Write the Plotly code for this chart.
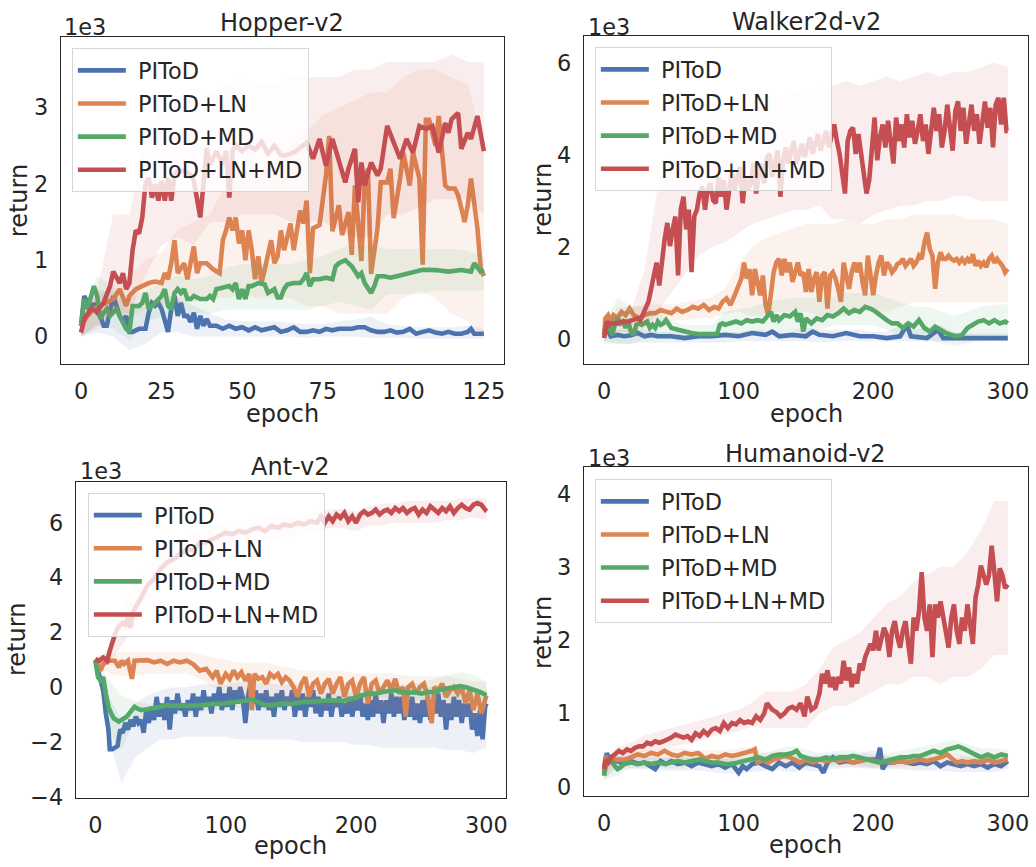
import plotly.graph_objects as go

W, H = 1036, 867
FONT = "DejaVu Sans"
TXT = "#262626"
LABELS = ["PIToD", "PIToD+LN", "PIToD+MD", "PIToD+LN+MD"]
COLORS = ["#4C72B0", "#DD8452", "#55A868", "#C44E52"]

# ---------------- Hopper-v2 (values in 1e3) ----------------
hop_blue_x = list(range(17)) + [18] + list(range(20, 41)) + list(range(42, 121, 2)) + [121, 122, 124, 125]
hop_blue_y = [0.14, 0.53, 0.44, 0.31, 0.44, 0.31, 0.27, 0.14, 0.14, 0.31,
              0.53, 0.4, 0.27, 0.19, 0.27, 0.06, 0.06, 0.1,
              0.1, 0.31, 0.44, 0.4, 0.44, 0.36, 0.23, 0.06, 0.36, 0.53,
              0.27, 0.44, 0.27, 0.27, 0.19, 0.31, 0.1, 0.27, 0.14, 0.23, 0.14,
              0.14, 0.1, 0.14, 0.1, 0.12, 0.08, 0.12, 0.08, 0.1, 0.12,
              0.06, 0.08, 0.12, 0.06, 0.06, 0.08, 0.06, 0.1, 0.08, 0.1,
              0.1, 0.1, 0.12, 0.12, 0.08, 0.06, 0.06, 0.08, 0.05, 0.06,
              0.1, 0.035, 0.06, 0.08, 0.05, 0.035, 0.06, 0.035, 0.035, 0.06,
              0.1, 0.035, 0.035, 0.035]
hop_orange_x = ([0, 2, 4, 6, 8, 10, 12, 13, 14, 15, 17, 19, 21, 23, 25] + list(range(26, 38)) + [39, 41, 43]
                + list(range(44, 72)) +
                [72, 74, 75, 76, 77, 78, 80, 81, 83, 84, 85, 87, 88, 89, 90, 92, 93, 95, 96, 97,
                 99, 100, 102, 103, 105, 106, 107, 108, 110, 111, 113, 114, 116, 117, 118, 119, 120, 121, 123, 124, 125])
hop_orange_y = [0.14, 0.27, 0.36, 0.4, 0.44, 0.49, 0.62, 0.49, 0.4, 0.53, 0.62, 0.66, 0.7, 0.72, 0.7,
                0.83, 0.75, 0.96, 1.26, 0.83, 0.9, 0.96, 0.75, 0.96, 1.18, 0.83, 0.96,
                0.96, 0.88, 0.83,
                1.26, 1.39, 1.56, 1.39, 1.56, 1.22, 1.39, 1.0, 1.39, 1.13,
                0.75, 1.05, 0.7, 0.88, 1.05, 1.26, 0.96, 1.05, 1.39, 1.13,
                1.3, 1.48, 1.13, 1.39, 1.65, 1.48, 1.78, 0.83,
                1.42, 1.46, 1.76, 2.11, 2.63, 1.38, 1.72, 1.33, 1.63, 1.07,
                1.98, 0.99, 2.02, 2.2, 0.82, 1.42, 2.02, 2.02, 2.2, 1.55,
                2.07, 2.41, 1.98, 2.41, 2.07, 0.94, 2.84, 2.84, 2.5, 2.89,
                1.98, 1.94, 1.94, 1.85, 1.68, 1.5, 1.72, 2.07, 1.42, 0.9, 0.79]
hop_green_x = (list(range(17)) + [18, 19, 20, 21, 23, 25, 26, 27, 28, 29, 30, 31, 32, 33, 34, 35, 37, 39, 40, 41, 42, 44, 46,
               47, 48, 49, 50, 51, 52, 53, 55, 57, 58, 60, 61, 62, 63, 64, 66, 68, 69, 70, 71, 72, 74, 76, 78, 79, 80,
               82, 83, 84, 86, 87, 88, 89, 90, 91, 92, 94, 96, 98, 100, 102, 104, 106, 110, 114, 118, 121, 122, 123, 124, 125])
hop_green_y = [0.14, 0.49, 0.36, 0.53, 0.66, 0.53, 0.23, 0.31, 0.36, 0.27,
               0.31, 0.36, 0.27, 0.19, 0.1, 0.06, 0.4, 0.4, 0.44, 0.57,
               0.36, 0.44, 0.53, 0.62, 0.4, 0.36, 0.57, 0.62, 0.57, 0.62,
               0.49, 0.49, 0.53, 0.49, 0.49, 0.53, 0.49, 0.62, 0.64, 0.66,
               0.62, 0.7, 0.49, 0.62, 0.49, 0.66, 0.66, 0.7, 0.68, 0.57,
               0.62, 0.51, 0.51, 0.62, 0.68, 0.7, 0.7, 0.75, 0.83, 0.66,
               0.75, 0.75, 0.77, 0.75, 0.92, 0.96, 1.0, 0.96, 0.92, 0.79,
               0.83, 0.7, 0.62, 0.57, 0.66, 0.79, 0.79, 0.77, 0.79, 0.81,
               0.83, 0.85, 0.875, 0.87, 0.85, 0.87, 0.85, 0.96, 0.9, 0.85, 0.87]
hop_red_x = ([0, 1, 3, 5, 7, 9, 10] + list(range(12, 31)) + [32, 34] + list(range(35, 41)) +
             [42, 44, 45, 46, 47, 48, 50, 52, 54, 56, 58, 60, 62, 63, 66, 70, 72, 74, 76, 78,
              80, 82, 83, 85, 86, 87, 88, 90, 92, 93, 95, 97, 99, 101, 103, 105, 107, 109, 111, 113,
              114, 115, 117, 118, 120, 121, 123, 125])
hop_red_y = [0.05, 0.23, 0.36, 0.33, 0.44, 0.66, 0.85,
             0.7, 0.83, 0.62, 0.7, 1.13, 1.39, 1.35, 1.56, 2.0, 2.08, 1.82, 2.0, 1.78, 2.04, 1.78, 2.08, 1.78, 2.12, 2.17,
             2.17, 2.12,
             2.04, 1.82, 1.56, 2.0, 2.47, 2.25,
             2.43, 2.25, 2.43, 1.82, 2.43, 2.51, 2.43, 2.5, 2.45, 2.55,
             2.4, 2.5, 2.38, 2.37, 2.41, 2.54, 2.33, 2.59, 2.24, 2.59,
             2.28, 2.02, 2.2, 2.46, 1.76, 2.28, 1.98, 2.28, 2.11, 2.2,
             2.76, 2.54, 2.33, 2.59, 2.41, 2.76, 2.72, 2.76, 2.41, 2.8,
             2.67, 2.85, 2.93, 2.46, 2.67, 2.59, 2.89, 2.43]
hop_band_x = list(range(0, 126, 5))
hop_blue_hi = [0.25, 0.6, 0.6, 0.35, 0.4, 0.55, 0.5, 0.4, 0.3, 0.22, 0.2, 0.2, 0.2, 0.18, 0.16, 0.16, 0.2, 0.22, 0.26, 0.16, 0.14, 0.12, 0.12, 0.12, 0.14, 0.1]
hop_blue_lo = [0.0, 0.05, 0.0, -0.18, -0.1, 0.05, 0.05, 0.0, 0.0, 0.0, 0.0, 0.0, 0.0, 0.0, -0.02, 0.0, 0.0, 0.0, -0.02, -0.02, -0.02, -0.03, -0.03, -0.03, -0.03, -0.03]
hop_orange_hi = [0.3, 0.5, 0.7, 0.8, 1.0, 1.1, 1.4, 1.5, 1.6, 2.0, 2.2, 2.1, 2.3, 2.5, 2.7, 2.9, 3.0, 3.1, 3.2, 3.2, 3.4, 3.5, 3.5, 3.4, 3.3, 2.5]
hop_orange_lo = [0.0, 0.15, 0.3, 0.25, 0.35, 0.4, 0.45, 0.45, 0.5, 0.5, 0.55, 0.5, 0.5, 0.5, 0.4, 0.4, 0.3, 0.3, 0.3, 0.3, 0.5, 0.6, 0.5, 0.3, 0.2, 0.0]
hop_green_hi = [0.3, 0.8, 0.65, 0.5, 0.6, 0.7, 0.8, 0.75, 0.8, 0.9, 0.95, 0.95, 0.95, 0.95, 1.0, 1.05, 1.15, 1.2, 1.2, 1.15, 1.15, 1.15, 1.15, 1.15, 1.12, 1.05]
hop_green_lo = [0.0, 0.15, 0.1, -0.05, 0.2, 0.25, 0.3, 0.3, 0.3, 0.35, 0.35, 0.35, 0.35, 0.35, 0.35, 0.4, 0.45, 0.4, 0.35, 0.55, 0.55, 0.55, 0.6, 0.6, 0.6, 0.6]
hop_red_hi = [0.2, 0.6, 1.6, 1.6, 2.6, 3.0, 3.0, 3.1, 3.2, 3.3, 3.4, 3.3, 3.3, 3.4, 3.4, 3.4, 3.4, 3.5, 3.5, 3.6, 3.6, 3.6, 3.6, 3.7, 3.6, 3.6]
hop_red_lo = [0.0, 0.1, 0.3, 0.3, 0.8, 1.2, 1.3, 1.2, 1.5, 1.5, 1.6, 1.6, 1.6, 1.5, 1.5, 1.5, 1.4, 1.3, 1.3, 1.6, 1.6, 1.7, 1.8, 1.8, 1.8, 1.6]

# ---------------- Walker2d-v2 ----------------
wal_blue_x = [0, 2, 5, 10, 15, 20, 25, 30, 35, 40, 50, 60, 70, 80, 90, 100, 110, 120, 125, 130, 140, 150, 155, 160,
              170, 180, 190, 200, 210, 220, 225, 228, 240, 248, 252, 260, 270, 280, 290, 300]
wal_blue_y = [0.09, 0.24, 0.06, 0.09, 0.06, 0.08, 0.13, 0.06, 0.09, 0.06,
              0.06, 0.02, 0.06, 0.06, 0.09, 0.06, 0.13, 0.09, 0.16, 0.06,
              0.09, 0.06, 0.16, 0.09, 0.06, 0.13, 0.06, 0.06, 0.02, 0.06,
              0.31, 0.06, 0.02, 0.2, 0.02, 0.02, 0.02, 0.02, 0.02, 0.02]
wal_orange_x = [0, 1, 3, 5, 7, 10, 13, 16, 19, 22, 26, 30, 34, 38, 42, 46, 50, 54, 58, 62,
                66, 70, 74, 78, 82, 85, 88, 91, 94, 97] + list(range(100, 301, 2))
wal_orange_y = [0.09, 0.45, 0.52, 0.38, 0.52, 0.45, 0.59, 0.52, 0.66, 0.52,
                0.45, 0.52, 0.56, 0.56, 0.63, 0.59, 0.56, 0.66, 0.59, 0.63,
                0.7, 0.66, 0.74, 0.63, 0.7, 0.66, 0.81, 0.88, 0.74, 0.95,
                1.16, 1.31, 1.66, 1.31, 1.52, 0.95, 1.52, 1.24, 0.95, 1.38,
                0.74, 0.52, 1.09, 1.45, 1.66, 1.74, 1.38, 1.74, 1.45, 1.66,
                1.24, 1.45, 1.66, 1.38, 1.45, 1.02, 1.52, 1.02, 1.31, 1.45,
                0.81, 1.38, 1.45, 0.66, 1.38, 1.45, 1.31, 1.09, 0.81, 1.66,
                1.31, 1.09, 1.45, 1.66, 1.45, 1.66, 1.24, 0.95, 1.81, 1.38,
                0.95, 1.38, 1.66, 1.81, 1.38, 1.66, 1.59, 1.45, 1.52, 1.63,
                1.66, 1.74, 1.59, 1.66, 1.74, 1.59, 1.66, 1.81, 1.74, 2.09,
                2.31, 1.95, 1.81, 1.09, 1.66, 1.88, 1.74, 1.74, 1.81, 1.74,
                1.7, 1.74, 1.66, 1.74, 1.66, 1.74, 1.66, 1.84, 1.59, 1.7,
                1.59, 1.66, 1.56, 1.74, 1.81, 1.66, 1.74, 1.66, 1.59, 1.45,
                1.52]
wal_green_x = (list(range(0, 51, 2)) + [55, 60, 65, 70, 75, 80, 84, 86, 88, 90] +
               [94, 98, 102, 106, 110, 114, 118, 122, 124, 126, 128, 130, 134, 138, 142, 144, 146, 148, 150] +
               list(range(154, 299, 4)) + [300])
wal_green_y = [0.09, 0.31, 0.24, 0.09, 0.31, 0.45, 0.34, 0.38, 0.24, 0.38,
               0.16, 0.09, 0.31, 0.34, 0.31, 0.34, 0.38, 0.24, 0.31, 0.24,
               0.38, 0.31, 0.34, 0.41, 0.31, 0.24,
               0.2, 0.16, 0.13, 0.11, 0.11, 0.11, 0.11, 0.31, 0.34, 0.31,
               0.34, 0.38, 0.34, 0.41, 0.38, 0.41, 0.38, 0.52, 0.59, 0.38,
               0.52, 0.41, 0.52, 0.49, 0.59, 0.38, 0.56, 0.16, 0.45,
               0.34, 0.45, 0.41, 0.52, 0.49, 0.56, 0.66, 0.56, 0.63, 0.59,
               0.7, 0.66, 0.59, 0.49, 0.41, 0.34, 0.34, 0.24, 0.34, 0.27,
               0.41, 0.24, 0.16, 0.27, 0.2, 0.13, 0.09, 0.06, 0.09, 0.24,
               0.31, 0.38, 0.41, 0.34, 0.41, 0.34, 0.38,
               0.34]
wal_red_x = [0, 2, 4, 6, 10, 14, 18, 22, 25, 27, 30, 33, 35, 37, 39] + list(range(41, 300, 2)) + [300]
wal_red_y = [0.02, 0.38, 0.31, 0.34, 0.34, 0.38, 0.38, 0.41, 0.45, 0.41, 0.59, 0.81, 1.09, 1.38, 1.66,
             1.16, 1.74, 2.16, 2.52, 2.02, 2.38, 2.66, 1.38, 2.81, 3.09,
             2.38, 2.81, 1.45, 2.66, 2.81, 3.16, 3.31, 2.81, 3.24, 3.38,
             3.02, 2.95, 3.52, 3.09, 3.45, 2.81, 3.31, 3.66, 3.24, 3.45,
             3.74, 2.95, 3.52, 3.24, 3.38, 3.81, 3.16, 3.59, 3.81, 3.38,
             3.95, 4.02, 3.52, 3.81, 4.09, 3.09, 3.88, 4.16, 3.81, 4.09,
             4.3, 3.81, 4.02, 4.24, 3.95, 4.16, 4.38, 4.02, 4.24, 4.45,
             4.09, 4.3, 4.52, 4.16, 4.38, 4.66, 4.3, 4.02, 3.59, 3.16,
             4.3, 4.52, 4.59, 4.02, 4.45, 4.02, 3.66, 3.16, 3.45, 4.24,
             4.81, 3.88, 4.38, 4.66, 4.16, 4.74, 4.24, 3.81, 4.81, 4.3,
             4.66, 4.16, 4.88, 4.38, 4.74, 4.24, 4.52, 4.88, 4.3, 4.66,
             4.02, 4.59, 5.02, 4.52, 4.88, 4.16, 4.52, 5.09, 4.66, 4.09,
             4.95, 5.16, 4.52, 5.02, 4.24, 4.66, 5.09, 4.52, 4.88, 4.24,
             4.74, 5.16, 4.59, 5.02, 4.16, 5.09, 5.24, 4.66, 5.24, 4.52,
             4.52]
wal_band_x = list(range(0, 301, 10))
wal_blue_hi = [0.25, 0.2, 0.2, 0.2, 0.15, 0.15, 0.15, 0.15, 0.15, 0.15, 0.15, 0.2, 0.2, 0.2, 0.2, 0.25, 0.2, 0.2, 0.2, 0.2, 0.15, 0.15, 0.3, 0.2, 0.25, 0.3, 0.15, 0.12, 0.12, 0.12, 0.12]
wal_blue_lo = [-0.05, -0.1, -0.1, -0.08, -0.08, -0.08, -0.08, -0.08, -0.08, -0.08, -0.05, -0.05, -0.05, -0.05, -0.05, -0.05, -0.08, -0.05, -0.05, -0.05, -0.05, -0.05, -0.05, -0.05, -0.05, -0.05, -0.05, -0.05, -0.05, -0.05, -0.05]
wal_orange_hi = [0.2, 0.7, 0.7, 0.75, 0.75, 0.75, 0.8, 0.85, 0.9, 1.1, 1.6, 2.0, 2.2, 2.3, 2.4, 2.5, 2.5, 2.5, 2.6, 2.5, 2.5, 2.6, 2.6, 2.7, 2.7, 2.7, 2.7, 2.6, 2.6, 2.6, 2.5]
wal_orange_lo = [0.0, 0.3, 0.3, 0.35, 0.4, 0.4, 0.4, 0.45, 0.45, 0.55, 0.6, 0.5, 0.5, 0.6, 0.6, 0.6, 0.5, 0.5, 0.5, 0.6, 0.6, 0.6, 0.7, 0.8, 0.8, 0.8, 0.8, 0.8, 0.8, 0.8, 0.8]
wal_green_hi = [0.3, 0.9, 0.7, 0.7, 0.6, 0.4, 0.3, 0.3, 0.3, 0.6, 0.65, 0.7, 0.8, 0.85, 0.9, 0.9, 0.9, 0.9, 1.0, 1.0, 1.0, 0.9, 0.8, 0.7, 0.7, 0.6, 0.5, 0.6, 0.7, 0.75, 0.75]
wal_green_lo = [-0.1, -0.1, -0.1, 0.0, 0.0, 0.0, 0.0, 0.0, 0.0, 0.1, 0.1, 0.1, 0.2, 0.2, 0.2, 0.1, 0.2, 0.3, 0.3, 0.3, 0.3, 0.2, 0.1, 0.0, 0.0, -0.1, -0.15, -0.1, 0.0, 0.05, 0.05]
wal_red_hi = [0.2, 0.6, 0.6, 1.5, 3.3, 4.0, 4.3, 4.5, 4.8, 5.0, 5.0, 5.1, 5.3, 5.2, 5.4, 5.3, 5.5, 5.5, 5.6, 5.5, 5.6, 5.7, 5.6, 5.7, 5.8, 5.7, 5.8, 5.8, 5.9, 6.0, 5.9]
wal_red_lo = [0.0, 0.15, 0.15, 0.2, 0.6, 1.0, 1.4, 1.8, 2.0, 2.1, 2.3, 2.5, 2.6, 2.7, 2.8, 2.8, 2.9, 2.6, 2.6, 2.5, 2.7, 2.8, 2.9, 2.9, 3.0, 3.0, 3.1, 3.1, 3.0, 3.0, 3.0]

# ---------------- Ant-v2 ----------------
ant_blue_x = [0, 2, 4, 6, 8, 10] + list(range(11, 300, 2)) + [300]
ant_blue_y = [0.97, 0.61, 0.37, -0.11, -0.95, -1.54,
              -2.26, -2.26, -2.2, -2.14, -1.54, -1.66, -1.3, -1.54, -1.19, -1.43,
              -1.07, -1.3, -1.19, -1.66, -0.83, -1.3, -0.71, -1.19, -0.35, -1.07,
              -0.59, -1.19, -0.35, -1.54, -0.47, -0.95, -0.23, -0.83, -0.59, -1.07,
              -0.47, -0.83, -0.23, -1.07, -0.35, -0.83, -0.11, -0.71, -0.35, -0.95,
              -0.23, -0.59, 0.01, -0.83, -0.23, -0.71, 0.01, -0.83, -0.11, -0.59,
              0.01, -0.35, -1.3, -0.35, 0.13, -0.59, -0.11, -0.83, -0.23, -0.71,
              -0.11, -0.83, -0.35, -1.07, -0.23, -0.71, -0.11, -0.83, -0.35, -0.59,
              -0.11, -1.07, -0.35, -0.83, -0.23, -1.07, -0.35, -0.71, -0.11, -0.95,
              -0.35, -1.07, -0.47, -0.83, -0.23, -1.07, -0.47, -0.71, -0.35, -1.07,
              -0.59, -0.95, -0.35, -1.07, -0.47, -0.83, -0.23, -1.07, -0.59, -1.19,
              -0.47, -1.07, -0.23, -0.95, -0.47, -1.3, -0.47, -0.95, -0.23, -1.07,
              -0.35, -0.95, -0.35, -1.19, -0.47, -1.07, -0.35, -1.19, -0.59, -1.3,
              -0.47, -1.07, -0.35, -1.19, -0.47, -0.95, -0.23, -1.07, -0.47, -1.54,
              -0.59, -1.19, -0.35, -1.07, -0.47, -1.3, -0.59, -1.07, -0.59, -1.54,
              -0.95, -1.78, -0.83, -1.9, -0.71,
              -0.59]
ant_orange_x = ([0, 2, 4, 6, 8, 10, 15, 18, 20, 22, 25, 28, 30, 35, 40, 45, 50, 55, 60, 65,
                 70, 75, 80, 85, 90, 93, 96, 100, 103, 106, 109, 112, 115, 118, 120, 122] +
                list(range(125, 237, 3)) + [238, 240] + list(range(243, 259, 3)) + list(range(260, 300, 3)) + [300])
ant_orange_y = [1.03, 0.85, 0.61, 0.85, 0.91, 0.97, 0.97, 0.73, 0.97, 0.85,
                0.97, 0.31, 0.97, 0.97, 0.99, 0.91, 0.97, 0.85, 0.97, 0.91,
                0.97, 0.85, 0.61, 0.67, 0.37, 0.61, 0.13, 0.49, 0.31, 0.61,
                0.37, 0.55, 0.25, 0.49, -0.83, 0.49,
                0.31, 0.37, 0.13, 0.49, 0.37, 0.49, 0.19, 0.37, 0.25, 0.01,
                -0.35, 0.13, 0.37, -0.35, 0.13, 0.25, -0.23, 0.13, 0.31, -0.23,
                0.13, 0.37, -0.35, 0.13, 0.25, -0.35, 0.13, 0.37, -0.59, 0.13,
                0.25, -0.23, 0.01, 0.25, -0.11, 0.31, -0.23, 0.01,
                -1.07, 0.01,
                0.13, -0.23, 0.01, 0.13, -0.35, -1.31,
                0.01, -0.11, 0.13, -0.35, -0.11, 0.01, -0.23, 0.01, -0.59, -0.11, -0.83, -0.23, -0.95, -0.35,
                -0.29]
ant_green_x = [0, 2, 4, 6, 8, 10, 12, 14, 16, 18, 20, 22, 24, 26, 28, 30, 32] + list(range(35, 301, 5))
ant_green_y = [0.97, 0.37, 0.25, 0.37, -0.23, -0.71, -0.95, -1.13, -1.19, -1.25, -1.19, -1.13, -1.07, -0.95, -0.83, -0.71, -0.77,
               -0.83, -0.8, -0.77, -0.71, -0.65, -0.68, -0.66, -0.68, -0.67, -0.66,
               -0.62, -0.61, -0.61, -0.59, -0.56, -0.53, -0.49, -0.44, -0.53, -0.65,
               -0.65, -0.61, -0.59, -0.61, -0.56, -0.53, -0.53, -0.49, -0.49, -0.47,
               -0.49, -0.49, -0.44, -0.35, -0.29, -0.23, -0.23, -0.17, -0.13, -0.11,
               -0.17, -0.2, -0.18, -0.23, -0.17, -0.17, -0.08, -0.05, -0.01, 0.04,
               -0.01, -0.08, -0.17, -0.29]
ant_red_x = [0, 3, 6, 9, 11, 13, 15, 17, 19, 21, 23, 25, 27, 29] + list(range(35, 171, 5)) + list(range(173, 300, 3)) + [300]
ant_red_y = [1.03, 0.97, 1.09, 0.97, 1.33, 1.69, 1.93, 2.17, 2.29, 2.35, 2.29, 2.53, 2.17, 2.77,
             3.25, 3.72, 3.96, 4.32, 4.56, 4.68, 4.86, 5.04, 4.98, 5.28,
             5.28, 5.4, 5.52, 5.64, 5.58, 5.7, 5.64, 5.76, 5.82, 5.7,
             5.88, 5.82, 5.94, 5.88, 6.0, 5.94, 6.06, 6.0,
             6.24, 6.0, 6.24, 6.06, 6.3, 6.18, 6.36, 6.06, 6.24, 6.0,
             6.3, 6.42, 6.3, 6.36, 6.48, 6.3, 6.42, 6.48, 6.36, 6.54,
             6.42, 6.54, 6.36, 6.48, 6.54, 6.3, 6.48, 6.36, 6.6, 6.48,
             6.36, 6.54, 6.42, 6.6, 6.36, 6.54, 6.66, 6.54, 6.48, 6.66,
             6.72, 6.66, 6.48,
             6.54]
ant_band_x = list(range(0, 301, 10))
ant_blue_hi = [1.0, -0.3, -1.2, -0.6, -0.3, -0.1, 0.0, 0.0, 0.1, 0.1, 0.1, 0.2, 0.2, 0.15, 0.1, 0.1, 0.1, 0.1, 0.1, 0.1, 0.05, 0.0, 0.0, 0.0, 0.0, 0.0, 0.0, -0.1, -0.1, -0.2, -0.1]
ant_blue_lo = [0.9, -1.8, -3.5, -2.6, -2.2, -1.9, -1.9, -1.8, -1.8, -1.8, -1.8, -1.9, -1.9, -1.9, -1.9, -1.9, -2.0, -2.0, -2.0, -2.0, -2.1, -2.1, -2.2, -2.2, -2.2, -2.2, -2.2, -2.3, -2.3, -2.4, -2.2]
ant_orange_hi = [1.1, 1.2, 1.3, 1.3, 1.3, 1.3, 1.3, 1.3, 1.2, 1.1, 1.0, 0.9, 0.9, 0.9, 0.8, 0.7, 0.6, 0.6, 0.6, 0.6, 0.5, 0.5, 0.5, 0.5, 0.4, 0.4, 0.4, 0.4, 0.3, 0.2, 0.2]
ant_orange_lo = [0.9, 0.5, 0.4, 0.4, 0.5, 0.5, 0.5, 0.5, 0.3, 0.0, -0.2, -0.3, -0.4, -0.4, -0.5, -0.5, -0.6, -0.7, -0.7, -0.8, -0.8, -0.8, -0.9, -0.9, -1.0, -1.0, -1.0, -1.1, -1.1, -1.2, -1.0]
ant_green_hi = [1.0, 0.3, -0.3, -0.5, -0.6, -0.55, -0.5, -0.5, -0.45, -0.45, -0.4, -0.35, -0.45, -0.45, -0.4, -0.35, -0.3, -0.3, -0.3, -0.25, -0.15, -0.05, 0.05, 0.1, 0.1, 0.2, 0.3, 0.45, 0.55, 0.45, 0.2]
ant_green_lo = [0.9, -1.6, -2.3, -1.2, -1.1, -1.05, -1.0, -0.95, -0.9, -0.85, -0.8, -0.75, -0.85, -0.85, -0.8, -0.75, -0.7, -0.7, -0.7, -0.65, -0.55, -0.45, -0.4, -0.4, -0.45, -0.45, -0.45, -0.5, -0.5, -0.6, -0.8]
ant_red_hi = [1.1, 1.3, 2.8, 3.8, 4.4, 4.9, 5.3, 5.5, 5.7, 5.8, 6.0, 6.1, 6.1, 6.2, 6.2, 6.3, 6.3, 6.4, 6.5, 6.5, 6.4, 6.6, 6.7, 6.7, 6.8, 6.8, 6.8, 6.8, 6.9, 6.9, 6.9]
ant_red_lo = [0.9, 0.8, 1.5, 2.2, 3.2, 3.6, 3.9, 4.2, 4.5, 4.7, 4.9, 5.1, 5.2, 5.3, 5.4, 5.5, 5.6, 5.7, 5.8, 5.8, 5.7, 5.9, 5.9, 6.0, 6.0, 6.0, 6.0, 6.1, 6.1, 6.2, 6.1]

# ---------------- Humanoid-v2 ----------------
hum_blue_x = ([0, 2, 4, 6] + list(range(10, 36, 5)) + [38, 42, 46] + list(range(50, 101, 5)) + [103, 106] +
              list(range(110, 161, 5)) + [163, 166] + list(range(170, 201, 5)) + [203, 205, 207] + list(range(210, 301, 5)))
hum_blue_y = [0.19, 0.46, 0.37, 0.33,
              0.35, 0.31, 0.35, 0.31, 0.33, 0.28,
              0.24, 0.35, 0.31,
              0.35, 0.31, 0.33, 0.28, 0.33, 0.31, 0.28, 0.31, 0.26, 0.31, 0.19,
              0.28, 0.24,
              0.31, 0.33, 0.28, 0.24, 0.33, 0.28, 0.33, 0.26, 0.33, 0.31, 0.28,
              0.19, 0.33,
              0.4, 0.33, 0.35, 0.33, 0.35, 0.37, 0.37,
              0.37, 0.53, 0.24,
              0.33, 0.33, 0.35, 0.33, 0.31, 0.33, 0.31, 0.35, 0.28, 0.33,
              0.31, 0.28, 0.31, 0.28, 0.31, 0.26, 0.31, 0.28, 0.35]
hum_orange_x = ([0, 1, 3] + list(range(5, 111, 5)) + [112, 114] + list(range(118, 151, 4)) +
                list(range(155, 256, 5)) + [258, 262, 266] + list(range(270, 301, 5)))
hum_orange_y = [0.15, 0.42, 0.33,
                0.37, 0.37, 0.37, 0.4, 0.44, 0.42, 0.46, 0.44, 0.49, 0.44,
                0.42, 0.46, 0.44, 0.46, 0.38, 0.42, 0.4, 0.44, 0.42, 0.44,
                0.46, 0.49,
                0.51, 0.33,
                0.37, 0.33, 0.37, 0.4, 0.42, 0.4, 0.37, 0.33, 0.37,
                0.33, 0.37, 0.35, 0.37, 0.35, 0.37, 0.33, 0.35, 0.37, 0.35,
                0.33, 0.35, 0.33, 0.35, 0.33, 0.35, 0.37, 0.35, 0.37, 0.4,
                0.44,
                0.4, 0.33, 0.35,
                0.33, 0.35, 0.33, 0.37, 0.33, 0.35, 0.37]
hum_green_x = ([0, 2, 4, 6, 8, 10, 12] + list(range(15, 141, 5)) + [143, 146] + list(range(150, 261, 5)) +
               [263, 266] + list(range(270, 301, 5)))
hum_green_y = [0.15, 0.37, 0.4, 0.33, 0.28, 0.24, 0.26,
               0.31, 0.33, 0.31, 0.33, 0.31, 0.33, 0.31, 0.33, 0.35, 0.33,
               0.35, 0.37, 0.35, 0.33, 0.33, 0.31, 0.31, 0.33, 0.35, 0.37,
               0.4, 0.37, 0.42, 0.44, 0.44, 0.46,
               0.49, 0.42,
               0.4, 0.37, 0.37, 0.4, 0.37, 0.4, 0.4, 0.42, 0.4, 0.37,
               0.35, 0.33, 0.35, 0.37, 0.4, 0.4, 0.42, 0.42, 0.46, 0.49,
               0.46, 0.51, 0.53,
               0.55, 0.53,
               0.49, 0.44, 0.4, 0.44, 0.4, 0.44, 0.42]
hum_red_x = ([0, 1, 3, 5] + list(range(8, 120, 3)) + [121, 123, 125] +
             [128, 131, 134, 137, 140, 143, 146, 149, 151, 154, 157, 160] + list(range(162, 301, 2)))
hum_red_y = [0.24, 0.37, 0.33, 0.4,
             0.44, 0.49, 0.46, 0.51, 0.49, 0.53, 0.55, 0.55, 0.6, 0.58,
             0.62, 0.6, 0.62, 0.64, 0.67, 0.71, 0.69, 0.67, 0.69, 0.64,
             0.73, 0.69, 0.76, 0.71, 0.78, 0.8, 0.76, 0.87, 0.8, 0.87,
             0.85, 0.91, 0.87, 0.89, 0.87, 0.96, 0.91, 1.0,
             1.14, 1.09, 1.05,
             1.02, 0.96, 1.0, 1.07, 1.09, 1.05, 1.14, 0.96, 1.23, 1.05, 1.09, 1.27,
             1.54, 1.41, 1.59, 1.36, 1.5, 1.32, 1.5, 1.41, 1.72, 1.45,
             1.63, 1.36, 1.54, 1.41, 1.68, 1.59, 1.77, 1.86, 1.95, 1.86,
             2.13, 1.86, 2.04, 2.17, 2.08, 1.77, 2.13, 2.26, 2.04, 1.9,
             2.13, 2.26, 1.95, 1.68, 2.31, 2.13, 2.4, 2.93, 2.31, 2.13,
             2.49, 1.77, 2.49, 2.31, 2.53, 2.31, 2.13, 1.9, 2.31, 2.49,
             2.13, 1.95, 2.31, 2.13, 2.49, 2.26, 1.95, 2.58, 2.76, 3.02,
             2.89, 2.76, 2.89, 3.29, 2.93, 2.53, 2.98, 2.89, 2.71, 2.76]
hum_band_x = list(range(0, 301, 10))
hum_blue_hi = [0.3, 0.42, 0.42, 0.42, 0.4, 0.4, 0.4, 0.4, 0.4, 0.38, 0.38, 0.4, 0.42, 0.4, 0.4, 0.42, 0.42, 0.45, 0.45, 0.45, 0.5, 0.42, 0.42, 0.4, 0.42, 0.4, 0.4, 0.4, 0.38, 0.38, 0.42]
hum_blue_lo = [0.1, 0.25, 0.24, 0.24, 0.22, 0.22, 0.22, 0.22, 0.2, 0.18, 0.18, 0.2, 0.22, 0.22, 0.2, 0.22, 0.2, 0.24, 0.26, 0.26, 0.24, 0.24, 0.24, 0.22, 0.22, 0.22, 0.2, 0.2, 0.2, 0.2, 0.24]
hum_orange_hi = [0.25, 0.45, 0.48, 0.5, 0.52, 0.53, 0.52, 0.5, 0.5, 0.5, 0.52, 0.55, 0.46, 0.48, 0.45, 0.43, 0.43, 0.43, 0.43, 0.42, 0.42, 0.41, 0.41, 0.42, 0.43, 0.46, 0.45, 0.42, 0.41, 0.41, 0.44]
hum_orange_lo = [0.1, 0.3, 0.32, 0.36, 0.38, 0.36, 0.36, 0.33, 0.34, 0.34, 0.36, 0.4, 0.26, 0.3, 0.28, 0.26, 0.27, 0.28, 0.27, 0.27, 0.26, 0.26, 0.26, 0.27, 0.28, 0.32, 0.26, 0.25, 0.25, 0.26, 0.3]
hum_green_hi = [0.25, 0.35, 0.4, 0.4, 0.4, 0.4, 0.42, 0.44, 0.42, 0.4, 0.42, 0.45, 0.46, 0.52, 0.56, 0.5, 0.46, 0.48, 0.5, 0.48, 0.44, 0.46, 0.48, 0.52, 0.56, 0.6, 0.64, 0.58, 0.52, 0.52, 0.5]
hum_green_lo = [0.1, 0.15, 0.25, 0.25, 0.25, 0.25, 0.27, 0.28, 0.26, 0.24, 0.26, 0.28, 0.32, 0.36, 0.38, 0.3, 0.28, 0.3, 0.32, 0.3, 0.26, 0.28, 0.3, 0.32, 0.38, 0.42, 0.44, 0.36, 0.32, 0.32, 0.34]
hum_red_hi = [0.3, 0.55, 0.6, 0.7, 0.75, 0.8, 0.85, 0.9, 0.95, 1.0, 1.05, 1.15, 1.3, 1.3, 1.3, 1.4, 1.6, 1.9, 2.0, 2.1, 2.3, 2.5, 2.6, 2.8, 2.9, 3.0, 3.0, 3.2, 3.5, 3.9, 3.9]
hum_red_lo = [0.15, 0.4, 0.42, 0.48, 0.5, 0.55, 0.58, 0.62, 0.68, 0.72, 0.76, 0.82, 0.8, 0.8, 0.8, 0.8, 1.0, 1.1, 1.1, 1.2, 1.3, 1.4, 1.4, 1.5, 1.5, 1.4, 1.5, 1.5, 1.6, 1.8, 1.8]

panels = [
    dict(title="Hopper-v2", band_x=hop_band_x,
         series=[(hop_blue_x, hop_blue_y, hop_blue_lo, hop_blue_hi),
                 (hop_orange_x, hop_orange_y, hop_orange_lo, hop_orange_hi),
                 (hop_green_x, hop_green_y, hop_green_lo, hop_green_hi),
                 (hop_red_x, hop_red_y, hop_red_lo, hop_red_hi)],
         box=(61, 505, 38, 369), xr=(-6.25, 131.25), yr=(-0.36, 3.92),
         xt=[0, 25, 50, 75, 100, 125], yt=[0, 1, 2, 3],
         leg=(72, 49), tpos=(283, 23), e3=(62, 27), xl=(283, 420), yl=(19, 203)),
    dict(title="Walker2d-v2", band_x=wal_band_x,
         series=[(wal_blue_x, wal_blue_y, wal_blue_lo, wal_blue_hi),
                 (wal_orange_x, wal_orange_y, wal_orange_lo, wal_orange_hi),
                 (wal_green_x, wal_green_y, wal_green_lo, wal_green_hi),
                 (wal_red_x, wal_red_y, wal_red_lo, wal_red_hi)],
         box=(585, 1030, 37, 369), xr=(-15, 315), yr=(-0.54, 6.57),
         xt=[0, 100, 200, 300], yt=[0, 2, 4, 6],
         leg=(596, 48), tpos=(808, 22), e3=(587, 27), xl=(808, 420), yl=(544, 202)),
    dict(title="Ant-v2", band_x=ant_band_x,
         series=[(ant_blue_x, ant_blue_y, ant_blue_lo, ant_blue_hi),
                 (ant_orange_x, ant_orange_y, ant_orange_lo, ant_orange_hi),
                 (ant_green_x, ant_green_y, ant_green_lo, ant_green_hi),
                 (ant_red_x, ant_red_y, ant_red_lo, ant_red_hi)],
         box=(76, 507, 489, 809), xr=(-15, 315), yr=(-4.03, 7.48),
         xt=[0, 100, 200, 300], yt=[-4, -2, 0, 2, 4, 6],
         leg=(88, 500), tpos=(291, 474), e3=(78, 478), xl=(291, 858), yl=(17, 648)),
    dict(title="Humanoid-v2", band_x=hum_band_x,
         series=[(hum_blue_x, hum_blue_y, hum_blue_lo, hum_blue_hi),
                 (hum_orange_x, hum_orange_y, hum_orange_lo, hum_orange_hi),
                 (hum_green_x, hum_green_y, hum_green_lo, hum_green_hi),
                 (hum_red_x, hum_red_y, hum_red_lo, hum_red_hi)],
         box=(585, 1030, 474, 807), xr=(-15, 315), yr=(-0.125, 4.36),
         xt=[0, 100, 200, 300], yt=[0, 1, 2, 3, 4],
         leg=(596, 486), tpos=(807, 460), e3=(587, 464), xl=(807, 857), yl=(544, 641)),
]


def px(x):
    return x / W


def py(y):
    return 1 - y / H


def rgba(hexc, a):
    h = hexc.lstrip("#")
    return "rgba(%d,%d,%d,%s)" % (int(h[0:2], 16), int(h[2:4], 16), int(h[4:6], 16), a)


def tick_text(v):
    return ("\u2212" + str(-v)) if v < 0 else str(v)


TICK_SIZE = 22.4
LABEL_SIZE = 24

fig = go.Figure()
annotations = []
layout = {}
for i, p in enumerate(panels):
    n = i + 1
    sx = "" if n == 1 else str(n)
    xa, ya = "x" + sx, "y" + sx
    legname = "legend" + sx
    for k, (sxv, syv, lo, hi) in enumerate(p["series"]):
        c = COLORS[k]
        bx = p["band_x"]
        fig.add_trace(go.Scatter(x=bx + bx[::-1], y=hi + lo[::-1], fill="toself",
                                 fillcolor=rgba(c, 0.1), line=dict(width=0),
                                 mode="lines", hoverinfo="skip", showlegend=False,
                                 xaxis=xa, yaxis=ya))
        fig.add_trace(go.Scatter(x=sxv, y=syv, mode="lines", name="\u00a0" + LABELS[k],
                                 line=dict(color=c, width=4.6), xaxis=xa, yaxis=ya,
                                 legend=legname, legendgroup="g%d_%d" % (n, k)))
    x0, x1, y0, y1 = p["box"]
    axis_common = dict(showline=True, mirror=True, linecolor=TXT, linewidth=1.3,
                       showgrid=False, zeroline=False, ticks="outside", ticklen=7,
                       tickcolor="rgba(0,0,0,0)", tickfont=dict(family=FONT, size=TICK_SIZE, color=TXT))
    layout["xaxis" + sx] = dict(axis_common, domain=[px(x0), px(x1)], anchor=ya, range=list(p["xr"]),
                                tickvals=p["xt"], ticktext=[tick_text(v) for v in p["xt"]])
    layout["yaxis" + sx] = dict(axis_common, domain=[py(y1), py(y0)], anchor=xa, range=list(p["yr"]),
                                tickvals=p["yt"], ticktext=[tick_text(v) for v in p["yt"]])
    layout[legname] = dict(x=px(p["leg"][0]), y=py(p["leg"][1]), xanchor="left", yanchor="top",
                           bgcolor="rgba(255,255,255,0.8)", bordercolor="#d6d6d6", borderwidth=1,
                           font=dict(family=FONT, size=TICK_SIZE, color=TXT), itemwidth=48,
                           tracegroupgap=1)
    annotations.append(dict(text=p["title"], x=px(p["tpos"][0]), y=py(p["tpos"][1]), xref="paper", yref="paper",
                            showarrow=False, xanchor="center", yanchor="middle",
                            font=dict(family=FONT, size=LABEL_SIZE, color=TXT)))
    annotations.append(dict(text="1e3", x=px(p["e3"][0]), y=py(p["e3"][1]), xref="paper", yref="paper",
                            showarrow=False, xanchor="left", yanchor="middle",
                            font=dict(family=FONT, size=TICK_SIZE, color=TXT)))
    annotations.append(dict(text="epoch", x=px(p["xl"][0]), y=py(p["xl"][1]), xref="paper", yref="paper",
                            showarrow=False, xanchor="center", yanchor="middle",
                            font=dict(family=FONT, size=LABEL_SIZE, color=TXT)))
    annotations.append(dict(text="return", x=px(p["yl"][0]), y=py(p["yl"][1]), xref="paper", yref="paper",
                            showarrow=False, xanchor="center", yanchor="middle", textangle=-90,
                            font=dict(family=FONT, size=LABEL_SIZE, color=TXT)))

fig.update_layout(width=W, height=H, margin=dict(l=0, r=0, t=0, b=0),
                  paper_bgcolor="white", plot_bgcolor="white",
                  font=dict(family=FONT, color=TXT), annotations=annotations, **layout)
fig.write_html("out.html")
